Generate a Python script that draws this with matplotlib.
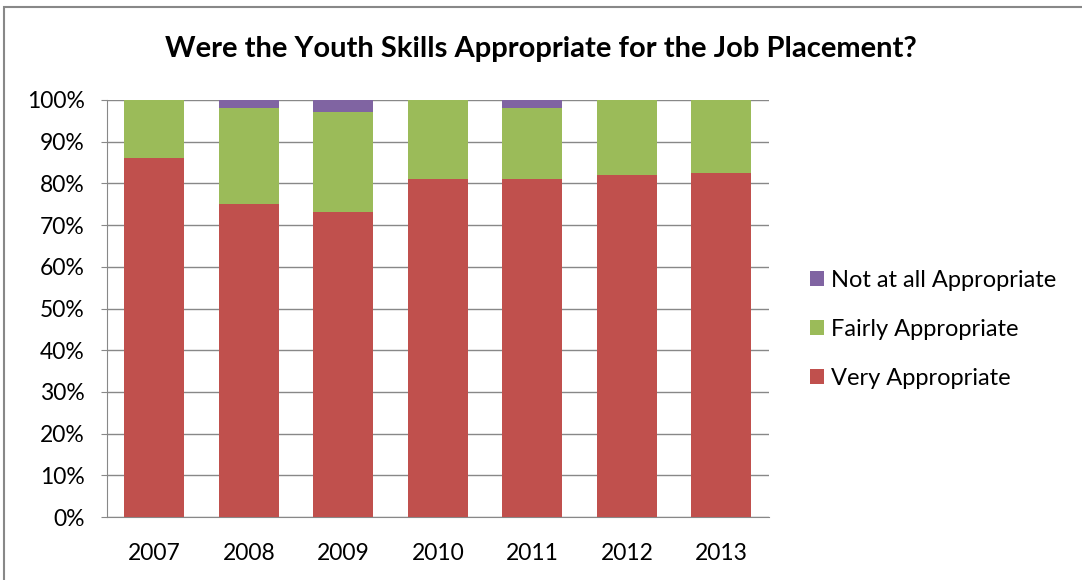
import matplotlib
matplotlib.use('Agg')
import matplotlib.pyplot as plt
import numpy as np
from matplotlib.patches import Rectangle

years = ['2007', '2008', '2009', '2010', '2011', '2012', '2013']
very = [86.0, 75.0, 73.1, 81.1, 81.0, 82.0, 82.6]
fairly = [14.0, 23.0, 24.0, 18.9, 17.0, 18.0, 17.4]
not_at_all = [0.0, 2.0, 2.9, 0.0, 2.0, 0.0, 0.0]

plt.rcParams['font.family'] = ['Lato', 'DejaVu Sans']

fig = plt.figure(figsize=(10.82, 5.8), dpi=100)
ax = fig.add_axes([0.0989, 0.1086, 0.6115, 0.719])

# chart border
fig.patches.append(Rectangle((0.004, -0.01), 1.1, 0.998, transform=fig.transFigure,
                             fill=False, edgecolor='#888888', linewidth=1.5))

x = np.arange(len(years))
w = 0.635
ax.bar(x, very, w, color='#C0504D', label='Very Appropriate', zorder=3)
ax.bar(x, fairly, w, bottom=very, color='#9BBB59', label='Fairly Appropriate', zorder=3)
bottom2 = np.array(very) + np.array(fairly)
ax.bar(x, not_at_all, w, bottom=bottom2, color='#8064A2', label='Not at all Appropriate', zorder=3)

ax.set_xlim(-0.5, len(years) - 0.5)
ax.set_ylim(0, 100)
ax.set_yticks(range(0, 101, 10))
ax.set_yticklabels([f'{v}%' for v in range(0, 101, 10)])
ax.set_xticks(x)
ax.set_xticklabels(years)
ax.tick_params(axis='both', labelsize=16.5, colors='#000000')
ax.tick_params(axis='y', length=4, color='#888888', pad=12)
ax.tick_params(axis='x', length=0, pad=19)
ax.grid(axis='y', color='#888888', linewidth=1, zorder=0)
for s in ['top', 'right']:
    ax.spines[s].set_visible(False)
for s in ['left', 'bottom']:
    ax.spines[s].set_color('#888888')

fig.text(0.5, 0.915, 'Were the Youth Skills Appropriate for the Job Placement?',
         ha='center', va='center', fontsize=21, fontweight='bold')

handles, labels = ax.get_legend_handles_labels()
ax.legend(handles[::-1], labels[::-1], loc='center left', bbox_to_anchor=(1.03, 0.45),
          frameon=False, fontsize=17, handlelength=0.6, handleheight=0.6,
          handletextpad=0.3, labelspacing=1.2)

fig.savefig('out.png', dpi=100)
